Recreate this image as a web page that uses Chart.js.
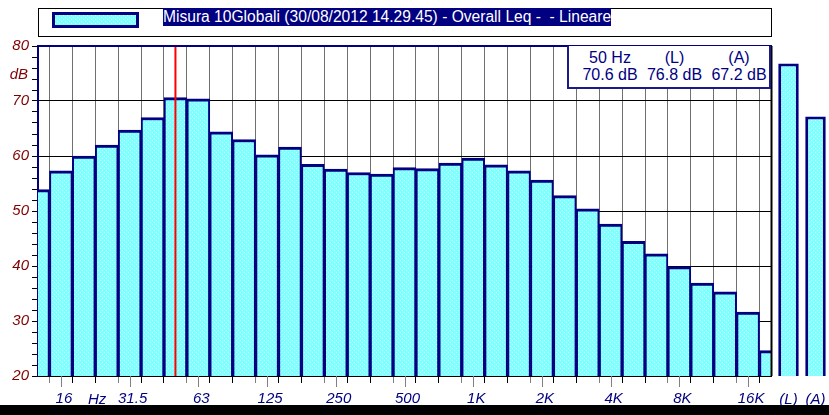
<!DOCTYPE html>
<html>
<head>
<meta charset="utf-8">
<script src="https://cdn.jsdelivr.net/npm/chart.js@4"></script>
<style>
  body { margin: 0; background: #fff; }
  #wrap { position: relative; width: 829px; height: 415px; overflow: hidden; font-family: "Liberation Sans", Arial, sans-serif; }
  canvas { position: absolute; top: 0; }
  #main { left: 0; }
  #totals { left: 771px; }
  #legend { position: absolute; left: 38px; top: 8px; width: 732px; height: 27px; border: 1px solid #000; background: #fff; }
  #swatch { position: absolute; left: 13px; top: 3px; width: 81px; height: 10px; border: 3px solid #000080; }
  #legtext { position: absolute; left: 124px; top: -1px; background: #000080; color: #fff; font-size: 15.6px; line-height: 18px; white-space: pre; }
  #info { position: absolute; left: 567px; top: 46px; width: 200px; height: 41px; border: 2px solid #1a1a8c; border-top: none; background: #fff; }
  .col { position: absolute; top: 3px; width: 64px; text-align: center; color: #000080; font-size: 16px; line-height: 17px; white-space: pre; }
  .unit { position: absolute; font-style: italic; font-size: 15px; line-height: 18px; }
  #bottom { position: absolute; left: 0; top: 405px; width: 829px; height: 10px; background: #000; }
</style>
</head>
<body>
<div id="wrap">
  <canvas id="main" width="829" height="415"></canvas>
  <canvas id="totals" width="58" height="415"></canvas>
  <div id="legend"><div id="swatch"></div><span id="legtext"></span></div>
  <div id="info"></div>
  <div class="unit" style="left:0;width:28px;text-align:right;top:65px;color:#800000;">dB</div>
  <div class="unit" style="left:88px;top:390px;color:#000080;">Hz</div>
  <div id="bottom"></div>
</div>
<script>
// 1/3 octave bands, Leq in dB (Lineare)
const bands = ['12.5', '16', '20', '25', '31.5', '40', '50', '63', '80', '100',
  '125', '160', '200', '250', '315', '400', '500', '630', '800', '1K',
  '1.25K', '1.6K', '2K', '2.5K', '3.15K', '4K', '5K', '6.3K', '8K', '10K',
  '12.5K', '16K', '20K'];
const levels = [53.9, 57.3, 60.0, 62.0, 64.7, 67.0, 70.6, 70.4, 64.4, 63.0,
  60.2, 61.6, 58.5, 57.6, 57.0, 56.7, 57.9, 57.7, 58.7, 59.6,
  58.4, 57.3, 55.6, 52.8, 50.4, 47.6, 44.5, 42.2, 39.9, 36.9,
  35.3, 31.6, 24.6];
const shownBands = ['16', '31.5', '63', '125', '250', '500', '1K', '2K', '4K', '8K', '16K'];

const totalLabels = ['(L)', '(A)'];
const totalLevels = [76.8, 67.2];

const cursorBand = '50';
const yTicks = [20, 30, 40, 50, 60, 70, 80];

const legendText = 'Misura 10Globali (30/08/2012 14.29.45) - Overall Leq -  - Lineare';

// dotted cyan fill
const pc = document.createElement('canvas');
pc.width = 4; pc.height = 4;
const pctx = pc.getContext('2d');
pctx.fillStyle = 'rgb(128,255,255)';
pctx.fillRect(0, 0, 4, 4);
pctx.fillStyle = 'rgb(205,255,255)';
pctx.fillRect(0, 0, 1, 1);
pctx.fillRect(2, 2, 1, 1);
const fill = pctx.createPattern(pc, 'repeat');
document.getElementById('swatch').style.background =
  'url(' + pc.toDataURL() + ')';

document.getElementById('legtext').textContent = legendText;

const cursorIdx = bands.indexOf(cursorBand);
const infoCols = [
  [cursorBand + ' Hz', levels[cursorIdx].toFixed(1) + ' dB'],
  [totalLabels[0], totalLevels[0].toFixed(1) + ' dB'],
  [totalLabels[1], totalLevels[1].toFixed(1) + ' dB']
];
const info = document.getElementById('info');
infoCols.forEach((c, i) => {
  const d = document.createElement('div');
  d.className = 'col';
  d.style.left = (9 + i * 64.5) + 'px';
  d.textContent = c[0] + '\n' + c[1];
  info.appendChild(d);
});

const tickFont = { family: '"Liberation Sans", Arial, sans-serif', size: 15, style: 'italic' };
const isShown = i => shownBands.includes(bands[i]);

const frame = {
  id: 'frame',
  afterDatasetsDraw(chart) {
    const ctx = chart.ctx;
    const a = chart.chartArea;
    const xs = chart.scales.x;
    ctx.save();
    // longer gray ticks under the labelled bands
    ctx.strokeStyle = '#808080';
    ctx.lineWidth = 1;
    bands.forEach((b, i) => {
      if (!isShown(i)) return;
      const px = Math.round(xs.getPixelForValue(i)) + 0.5;
      ctx.beginPath();
      ctx.moveTo(px, a.bottom);
      ctx.lineTo(px, a.bottom + 11);
      ctx.stroke();
    });
    // cursor
    const x = xs.getPixelForValue(cursorIdx);
    ctx.strokeStyle = '#ff0000';
    ctx.lineWidth = 2;
    ctx.beginPath();
    ctx.moveTo(x, a.top);
    ctx.lineTo(x, a.bottom);
    ctx.stroke();
    // frame top / right
    ctx.strokeStyle = '#000080';
    ctx.beginPath();
    ctx.moveTo(a.left, a.top);
    ctx.lineTo(a.right + 1, a.top);
    ctx.stroke();
    ctx.strokeStyle = '#000';
    ctx.beginPath();
    ctx.moveTo(a.right + 0.5, a.top);
    ctx.lineTo(a.right + 0.5, a.bottom);
    ctx.stroke();
    ctx.restore();
  }
};

new Chart(document.getElementById('main'), {
  type: 'bar',
  data: {
    labels: bands,
    datasets: [{
      data: levels,
      backgroundColor: fill,
      borderColor: '#000080',
      borderWidth: { top: 3, left: 2, right: 2, bottom: 0 },
      barPercentage: 1,
      categoryPercentage: 1,
      clip: 0
    }]
  },
  options: {
    responsive: false,
    devicePixelRatio: 1,
    animation: false,
    layout: { padding: { top: 46, right: 58, left: 0, bottom: 0 } },
    plugins: { legend: { display: false }, tooltip: { enabled: false } },
    scales: {
      x: {
        offset: false,
        afterFit(scale) { scale.height = 39; },
        grid: {
          color: '#707070',
          tickColor: c => isShown(c.index) ? '#808080' : '#000',
          tickLength: 7,
          lineWidth: 1
        },
        border: { color: '#000', width: 2 },
        ticks: {
          autoSkip: false,
          maxRotation: 0,
          padding: 7,
          labelOffset: 3,
          color: '#000080',
          font: tickFont,
          callback: (v, i) => isShown(i) ? bands[i] : ''
        }
      },
      y: {
        min: 20,
        max: 80,
        afterFit(scale) { scale.width = 38; },
        grid: {
          color: c => yTicks.includes(c.tick.value) ? '#000' : 'rgba(0,0,0,0)',
          tickColor: '#000',
          tickLength: 6
        },
        border: { color: '#000080', width: 2 },
        ticks: {
          stepSize: 2,
          autoSkip: false,
          padding: 3,
          color: '#800000',
          font: tickFont,
          callback: v => yTicks.includes(v) ? String(v) : ''
        }
      }
    }
  },
  plugins: [frame]
});

new Chart(document.getElementById('totals'), {
  type: 'bar',
  data: {
    labels: totalLabels,
    datasets: [{
      data: totalLevels,
      backgroundColor: fill,
      borderColor: '#000080',
      borderWidth: 3,
      borderSkipped: false,
      barPercentage: 0.76,
      categoryPercentage: 1
    }]
  },
  options: {
    responsive: false,
    devicePixelRatio: 1,
    animation: false,
    layout: { padding: { top: 46, right: 0, left: 4, bottom: 0 } },
    plugins: { legend: { display: false }, tooltip: { enabled: false } },
    scales: {
      x: {
        afterFit(scale) { scale.height = 39; },
        grid: { display: true, drawOnChartArea: false, color: 'rgba(0,0,0,0)', tickLength: 15 },
        border: { display: false },
        ticks: { padding: 0, color: '#000080', font: tickFont, maxRotation: 0, autoSkip: false }
      },
      y: { display: false, min: 20, max: 80 }
    }
  }
});
</script>
</body>
</html>
